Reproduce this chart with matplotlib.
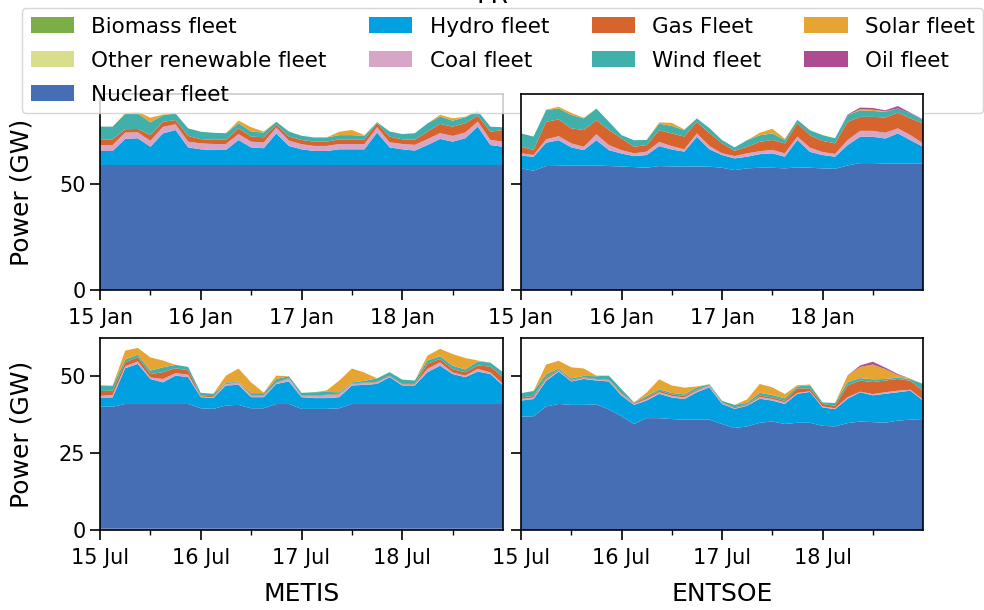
import pandas as pd
import matplotlib
matplotlib.use('Agg')
import matplotlib.pyplot as plt
import matplotlib.dates as mdates
from matplotlib.patches import Patch

labels = ['Biomass fleet', 'Other renewable fleet', 'Nuclear fleet', 'Hydro fleet',
          'Coal fleet', 'Gas Fleet', 'Wind fleet', 'Solar fleet', 'Oil fleet']
colors = ['#7cae48', '#d9de8c', '#466eb4', '#00a0e1', '#d7a5c8',
          '#d7642c', '#41afaa', '#e6a532', '#af4b91']

# 3-hourly samples, 15 -> 19 of the month
jan_times = pd.date_range('2015-01-15', periods=33, freq='3h')
jul_times = pd.date_range('2015-07-15', periods=33, freq='3h')

# ---- METIS, January (GW)
jan_metis_biomass = [0.5, 0.5, 0.5, 0.5, 0.5, 0.5, 0.5, 0.5, 0.5, 0.5, 0.5, 0.5, 0.5, 0.5, 0.5, 0.5, 0.5,
                     0.5, 0.5, 0.5, 0.5, 0.5, 0.5, 0.5, 0.5, 0.5, 0.5, 0.5, 0.5, 0.5, 0.5, 0.5, 0.5]
jan_metis_other = [0.2, 0.2, 0.2, 0.2, 0.2, 0.2, 0.2, 0.2, 0.2, 0.2, 0.2, 0.2, 0.2, 0.2, 0.2, 0.2, 0.2,
                   0.2, 0.2, 0.2, 0.2, 0.2, 0.2, 0.2, 0.2, 0.2, 0.2, 0.2, 0.2, 0.2, 0.2, 0.2, 0.2]
jan_metis_nuclear = [58.3, 58.3, 58.3, 58.3, 58.3, 58.3, 58.3, 58.3, 58.3, 58.3, 58.3, 58.3, 58.3, 58.3,
                     58.3, 58.3, 58.3, 58.3, 58.3, 58.3, 58.3, 58.3, 58.3, 58.3, 58.3, 58.3, 58.3, 58.3,
                     58.3, 58.3, 58.3, 58.3, 58.3]
jan_metis_hydro = [6.6, 6.6, 12.3, 12.6, 8.6, 14.9, 16.5, 8.3, 7.4, 7.1, 7.1, 11.8, 8.3, 7.9, 14.9, 9.0, 7.4,
                   6.6, 6.6, 7.4, 7.4, 7.4, 15.3, 8.3, 7.4, 6.8, 9.4, 12.3, 11.0, 12.6, 18.1, 9.4, 8.6]
jan_metis_coal = [2.8, 2.8, 3.0, 2.8, 2.8, 3.1, 2.7, 2.7, 2.8, 2.8, 2.8, 2.8, 2.7, 2.7, 2.8, 2.5, 2.4,
                  2.4, 2.4, 2.5, 2.5, 2.5, 2.5, 2.4, 2.5, 2.7, 2.8, 2.7, 2.7, 2.7, 2.4, 2.4, 2.4]
jan_metis_gas = [2.7, 2.7, 1.6, 1.6, 2.7, 2.4, 2.0, 2.7, 2.0, 2.0, 2.0, 2.7, 2.4, 2.5, 1.4, 1.9, 2.0,
                 2.0, 2.0, 2.2, 2.2, 2.2, 1.9, 2.7, 2.2, 2.4, 3.5, 4.4, 4.4, 4.4, 2.8, 3.9, 5.5]
jan_metis_wind = [6.0, 6.0, 7.2, 7.4, 6.0, 3.1, 3.1, 3.6, 3.5, 3.3, 3.1, 2.4, 2.4, 2.2, 1.3, 2.4, 2.0,
                  2.0, 2.0, 2.0, 2.0, 1.7, 0.5, 2.4, 2.5, 3.1, 3.9, 3.5, 2.8, 2.8, 2.2, 2.4, 1.3]
jan_metis_solar = [0, 0, 0.3, 0.8, 2.2, 0.3, 0, 0, 0, 0, 0, 1.3, 2.0, 0.5, 0, 0, 0,
                   0, 0, 1.6, 2.4, 0.3, 0, 0, 0, 0, 0, 0.8, 1.1, 0.3, 0, 0, 0]

# ---- ENTSOE, January (GW)
jan_entsoe_nuclear = [57.4, 56.3, 58.5, 58.6, 58.8, 58.8, 58.8, 58.5, 58.3, 58.0, 57.7, 58.5, 58.3, 58.2,
                      58.3, 58.2, 57.7, 56.6, 57.4, 57.7, 57.7, 57.4, 57.9, 57.7, 57.4, 57.2, 58.8, 59.9,
                      59.9, 59.7, 59.7, 59.7, 59.7]
jan_entsoe_hydro = [6.0, 6.6, 11.0, 12.1, 8.5, 7.2, 11.9, 7.5, 6.1, 5.2, 6.0, 9.4, 8.0, 7.1, 14.0, 8.2, 6.0,
                    5.5, 5.5, 6.4, 6.8, 5.5, 12.9, 7.5, 6.3, 5.7, 9.6, 12.4, 12.4, 11.8, 14.2, 11.0, 7.9]
jan_entsoe_coal = [1.1, 0.8, 1.6, 1.9, 1.9, 1.6, 2.8, 2.4, 1.6, 1.3, 1.6, 2.0, 1.6, 1.1, 1.6, 1.6, 0.8,
                   1.1, 1.6, 1.4, 1.6, 1.6, 1.6, 2.0, 1.4, 1.3, 2.4, 2.8, 2.8, 2.7, 2.4, 2.4, 1.6]
jan_entsoe_gas = [3.1, 2.4, 8.3, 7.9, 7.1, 7.9, 6.6, 7.1, 5.5, 3.1, 3.1, 5.5, 6.0, 6.0, 5.5, 6.0, 4.7,
                  2.5, 3.1, 4.4, 4.7, 4.7, 6.3, 5.8, 5.3, 5.0, 8.6, 6.6, 6.6, 7.2, 7.4, 7.9, 9.4]
jan_entsoe_wind = [6.3, 6.3, 5.5, 5.2, 6.3, 5.5, 5.5, 3.9, 1.6, 3.1, 2.4, 3.1, 3.5, 3.1, 1.6, 2.4, 1.6,
                   1.6, 3.1, 3.1, 3.1, 1.6, 1.6, 2.4, 2.7, 2.4, 3.1, 3.1, 2.8, 2.7, 2.0, 2.4, 1.6]
jan_entsoe_solar = [0, 0, 0.2, 0.8, 1.0, 0.3, 0, 0, 0, 0, 0, 0.6, 1.5, 0.3, 0, 0, 0,
                    0, 0, 1.2, 2.2, 0.6, 0, 0, 0, 0, 0, 0.5, 0.6, 0.2, 0, 0, 0]
jan_entsoe_oil = [0, 0, 0, 0, 0, 0, 0, 0, 0, 0, 0, 0, 0, 0, 0, 0, 0,
                  0, 0, 0, 0, 0, 0, 0, 0, 0, 0.3, 0.8, 0.8, 0.5, 1.1, 0.3, 0.3]

# ---- METIS, July (GW)
jul_metis_biomass = [0.3, 0.3, 0.3, 0.3, 0.3, 0.3, 0.3, 0.3, 0.3, 0.3, 0.3, 0.3, 0.3, 0.3, 0.3, 0.3, 0.3,
                     0.3, 0.3, 0.3, 0.3, 0.3, 0.3, 0.3, 0.3, 0.3, 0.3, 0.3, 0.3, 0.3, 0.3, 0.3, 0.3]
jul_metis_other = [0.1, 0.1, 0.1, 0.1, 0.1, 0.1, 0.1, 0.1, 0.1, 0.1, 0.1, 0.1, 0.1, 0.1, 0.1, 0.1, 0.1,
                   0.1, 0.1, 0.1, 0.1, 0.1, 0.1, 0.1, 0.1, 0.1, 0.1, 0.1, 0.1, 0.1, 0.1, 0.1, 0.1]
jul_metis_nuclear = [39.6, 39.6, 40.5, 40.5, 40.5, 40.5, 40.5, 40.5, 39.1, 38.9, 40.0, 40.2, 39.1, 39.1,
                     40.5, 40.5, 38.9, 38.9, 38.9, 39.1, 40.5, 40.5, 40.5, 40.5, 40.5, 40.5, 40.5, 40.5,
                     40.5, 40.5, 40.5, 40.5, 40.5]
jul_metis_hydro = [3.0, 3.0, 11.6, 13.0, 8.1, 7.0, 9.2, 8.7, 3.6, 3.5, 6.5, 6.5, 3.6, 3.6, 6.5, 7.3, 3.8,
                   3.5, 3.5, 3.6, 6.0, 6.2, 6.5, 8.7, 6.0, 6.0, 10.3, 12.4, 9.7, 8.7, 10.5, 9.7, 6.0]
jul_metis_coal = [0.5, 0.8, 0.6, 0.8, 0.5, 1.1, 0.8, 0.8, 0.2, 0.3, 0.5, 0.6, 0.5, 0.5, 0.3, 0.9, 0.3,
                  0.6, 0.9, 0.9, 0.5, 0.5, 0.5, 0.3, 0.3, 0.3, 1.1, 1.1, 0.5, 0.5, 0.9, 0.5, 0.5]
jul_metis_gas = [1.6, 1.4, 1.3, 1.4, 1.1, 2.2, 1.6, 1.4, 0.3, 0.3, 0.3, 0.2, 0.2, 0.2, 0.2, 0.2, 0.2,
                 0.2, 0.2, 0.2, 0.2, 0.2, 0.2, 0.2, 0.2, 0.2, 1.6, 1.1, 1.1, 1.1, 1.1, 1.9, 2.2]
jul_metis_wind = [1.8, 1.6, 0.9, 0.8, 1.1, 1.6, 1.1, 1.1, 0.9, 0.8, 0.2, 0.2, 0.6, 0.6, 1.1, 0.6, 0.9,
                  1.1, 0.9, 0.5, 0.3, 0.6, 1.1, 1.1, 1.4, 1.1, 1.1, 0.9, 1.1, 0.9, 1.3, 1.3, 1.6]
jul_metis_solar = [0, 0, 2.9, 2.2, 4.3, 2.2, 0, 0, 0, 0, 2.2, 4.3, 3.5, 0.2, 1.1, 0, 0,
                   0, 0.5, 3.8, 4.5, 2.7, 0, 0, 0, 0, 1.6, 2.4, 3.8, 3.7, 0.3, 0, 0]

# ---- ENTSOE, July (GW)
jul_entsoe_nuclear = [36.8, 36.9, 40.1, 40.9, 40.6, 40.6, 40.8, 39.1, 36.9, 34.4, 36.3, 36.3, 36.0, 35.8,
                      35.8, 35.8, 34.4, 33.1, 33.6, 34.8, 35.2, 34.4, 34.8, 34.8, 33.8, 33.6, 34.7, 35.2,
                      35.0, 34.8, 35.5, 35.8, 36.0]
jul_entsoe_hydro = [5.2, 5.6, 8.3, 10.5, 7.6, 8.4, 7.7, 9.1, 6.7, 6.2, 5.7, 7.9, 7.0, 6.7, 8.9, 10.5, 6.5,
                    6.2, 6.7, 7.8, 6.8, 6.5, 9.4, 10.0, 6.0, 5.6, 7.9, 9.5, 8.7, 9.4, 9.2, 9.4, 6.0]
jul_entsoe_coal = [0.5, 0.5, 0.5, 0.3, 0.2, 0.3, 0.3, 0.3, 0.5, 0.3, 0.5, 0.5, 0.5, 0.5, 0.5, 0.5, 0.3,
                   0.2, 0.2, 0.5, 0.5, 0.5, 0.3, 0.2, 0.3, 0.3, 0.5, 0.2, 0.4, 0.5, 0.5, 0.3, 0.3]
jul_entsoe_gas = [0.5, 0.5, 0.5, 0.3, 0.3, 0.2, 0.2, 0.2, 0.3, 0.3, 0.5, 0.5, 0.5, 0.5, 0.3, 0.2, 0.2,
                  0.3, 0.3, 0.5, 0.5, 0.5, 1.5, 0.9, 0.8, 0.8, 3.8, 3.6, 3.9, 3.8, 3.8, 2.9, 2.9]
jul_entsoe_wind = [1.4, 1.6, 1.1, 0.4, 0.5, 0.5, 0.9, 1.4, 1.3, 0.2, 0.5, 0.5, 0.5, 0.5, 0.8, 0.3, 0.5,
                   0.8, 0.5, 0.9, 0.8, 0.8, 0.6, 1.1, 0.5, 0.9, 1.1, 0.8, 0.9, 0.5, 0.5, 0.5, 2.2]
jul_entsoe_solar = [0, 0, 3.2, 2.5, 3.6, 2.4, 0.2, 0, 0, 0, 1.1, 3.2, 2.4, 2.2, 0.3, 0, 0,
                    0, 1.1, 2.9, 2.5, 1.4, 0.4, 0.2, 0, 0, 2.2, 3.6, 4.8, 3.2, 0.8, 0.2, 0]
jul_entsoe_oil = [0, 0, 0, 0, 0, 0, 0, 0, 0, 0, 0, 0, 0, 0, 0, 0, 0,
                  0, 0, 0, 0, 0, 0, 0, 0, 0, 0, 0.5, 0.9, 0.5, 0.3, 0, 0]

panels = [
    (jan_times, {'Biomass fleet': jan_metis_biomass, 'Other renewable fleet': jan_metis_other,
                 'Nuclear fleet': jan_metis_nuclear, 'Hydro fleet': jan_metis_hydro,
                 'Coal fleet': jan_metis_coal, 'Gas Fleet': jan_metis_gas,
                 'Wind fleet': jan_metis_wind, 'Solar fleet': jan_metis_solar}),
    (jan_times, {'Nuclear fleet': jan_entsoe_nuclear, 'Hydro fleet': jan_entsoe_hydro,
                 'Coal fleet': jan_entsoe_coal, 'Gas Fleet': jan_entsoe_gas,
                 'Wind fleet': jan_entsoe_wind, 'Solar fleet': jan_entsoe_solar,
                 'Oil fleet': jan_entsoe_oil}),
    (jul_times, {'Biomass fleet': jul_metis_biomass, 'Other renewable fleet': jul_metis_other,
                 'Nuclear fleet': jul_metis_nuclear, 'Hydro fleet': jul_metis_hydro,
                 'Coal fleet': jul_metis_coal, 'Gas Fleet': jul_metis_gas,
                 'Wind fleet': jul_metis_wind, 'Solar fleet': jul_metis_solar}),
    (jul_times, {'Nuclear fleet': jul_entsoe_nuclear, 'Hydro fleet': jul_entsoe_hydro,
                 'Coal fleet': jul_entsoe_coal, 'Gas Fleet': jul_entsoe_gas,
                 'Wind fleet': jul_entsoe_wind, 'Solar fleet': jul_entsoe_solar,
                 'Oil fleet': jul_entsoe_oil}),
]

fig = plt.figure(figsize=(9.84, 6.10), dpi=100)
ax_tl = fig.add_axes([100/984, 1-290/610, 403/984, 196/610])
ax_tr = fig.add_axes([521/984, 1-290/610, 402/984, 196/610], sharey=ax_tl)
ax_bl = fig.add_axes([100/984, 1-530/610, 403/984, 192/610])
ax_br = fig.add_axes([521/984, 1-530/610, 402/984, 192/610], sharey=ax_bl)
axes = [ax_tl, ax_tr, ax_bl, ax_br]

for ax, (times, series) in zip(axes, panels):
    names = [n for n in labels if n in series]
    ax.stackplot(times, [series[n] for n in names],
                 colors=[colors[labels.index(n)] for n in names])
    ax.set_xlim(times[0], times[-1])
    ax.xaxis.set_major_locator(mdates.DayLocator(bymonthday=[15, 16, 17, 18]))
    ax.xaxis.set_major_formatter(mdates.DateFormatter('%d %b'))
    ax.xaxis.set_minor_locator(mdates.HourLocator(byhour=12))
    ax.tick_params(which='major', labelsize=15, length=7, width=1.2)
    ax.tick_params(axis='x', which='major', pad=6)
    ax.tick_params(which='minor', length=3.5, width=1.0)
    for s in ax.spines.values():
        s.set_linewidth(1.2)

ax_tl.set_ylim(0, 92.5)
ax_tl.set_yticks([0, 50])
ax_bl.set_ylim(0, 62.3)
ax_bl.set_yticks([0, 25, 50])
ax_tr.tick_params(labelleft=False)
ax_br.tick_params(labelleft=False)

ax_tl.set_ylabel('Power (GW)', fontsize=18, labelpad=18)
ax_bl.set_ylabel('Power (GW)', fontsize=18, labelpad=18)
ax_bl.set_xlabel('METIS', fontsize=18, labelpad=10)
ax_br.set_xlabel('ENTSOE', fontsize=18, labelpad=10)

handles = [Patch(facecolor=c) for c in colors]
ax_tl.legend(handles, labels, ncol=4, loc='upper left', fontsize=15.5,
             labelspacing=0.65, handleheight=0.8,
             bbox_to_anchor=(22/984, 1-8/610), bbox_transform=fig.transFigure,
             borderaxespad=0)

fig.text(0.5, 1-3/610, 'FR', ha='center', va='baseline', fontsize=18)

fig.savefig('out.png', dpi=100)
